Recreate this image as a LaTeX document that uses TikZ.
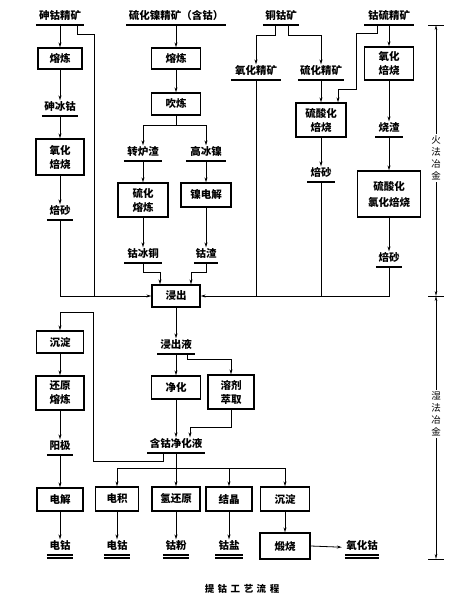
\documentclass[tikz,border=0pt]{standalone}
\usepackage{fontspec}
\setmainfont{Noto Sans CJK SC}
\usetikzlibrary{arrows.meta}

\begin{document}
\begin{tikzpicture}[x=1pt, y=-1pt,
  every node/.style={font=\fontsize{10.5}{14}\selectfont\bfseries},
  box/.style={draw, line width=1.3pt, minimum width=48pt, minimum height=22pt, inner sep=1pt, align=center},
  prod/.style={anchor=south, inner xsep=0pt, inner ysep=0.6pt, text height=9pt, text depth=5pt,
    append after command={(\tikzlastnode.south west) edge[line width=1.1pt] (\tikzlastnode.south east)}},
  final/.style={prod,
    append after command={([yshift=-3pt]\tikzlastnode.south west) edge[line width=1.1pt] ([yshift=-3pt]\tikzlastnode.south east)}},
  side/.style={fill=white, inner xsep=0.5pt, inner ysep=2pt, align=center, font=\fontsize{9.5}{12}\selectfont},
  line/.style={line width=0.8pt},
  flow/.style={line, -{Stealth[length=5pt,width=3pt]}},
  twoway/.style={line, {Stealth[length=5pt,width=2.6pt]}-{Stealth[length=5pt,width=2.6pt]}},
]
  \useasboundingbox (0,0) rectangle (459,607);

  \node[prod, minimum width=48pt] (ore1) at (60,25) {砷钴精矿};
  \node[prod, minimum width=99pt] (ore2) at (176,25) {硫化镍精矿（含钴）};
  \node[prod, minimum width=36pt] (ore3) at (281,25) {铜钴矿};
  \node[prod, minimum width=49pt] (ore4) at (389,25) {钴硫精矿};

  \node[box, minimum width=44pt, minimum height=21pt] (smelt1) at (60,58.5) {熔炼};
  \node[prod, minimum width=36pt] (matte1) at (60,116) {砷冰钴};
  \node[box, minimum height=36pt] (roast1) at (60,157) {氧化\\焙烧};
  \node[prod, minimum width=26pt] (calc1) at (60,220) {焙砂};

  \node[box, minimum width=49pt, minimum height=21pt] (smelt2) at (176,58.5) {熔炼};
  \node[box, minimum width=49pt] (blow) at (176,104) {吹炼};
  \node[prod, minimum width=38pt] (slag) at (143,161) {转炉渣};
  \node[prod, minimum width=40pt] (matte2) at (206,161) {高冰镍};
  \node[box, minimum width=50pt, minimum height=34pt] (smelt3) at (143,200) {硫化\\熔炼};
  \node[box, minimum width=50pt, minimum height=24pt] (elec1) at (206,195) {镍电解};
  \node[prod, minimum width=37pt] (comatte) at (143,263) {钴冰铜};
  \node[prod, minimum width=24pt] (coslag) at (206,263) {钴渣};

  \node[prod, minimum width=49pt] (oxore) at (256,80) {氧化精矿};
  \node[prod, minimum width=46pt] (sulore) at (321,80) {硫化精矿};
  \node[box, minimum width=50pt, minimum height=34pt] (sroast) at (321,120) {硫酸化\\焙烧};
  \node[prod, minimum width=27pt] (calc2) at (321,182) {焙砂};

  \node[box, minimum width=49pt, minimum height=33pt] (roast4) at (389,63.5) {氧化\\焙烧};
  \node[prod, minimum width=27pt] (cinder) at (389,137) {烧渣};
  \node[box, minimum width=63pt, minimum height=46pt] (scroast) at (389,194) {硫酸化\\[2pt]氯化焙烧};
  \node[prod, minimum width=26pt] (calc3) at (389,267) {焙砂};

  \node[box] (leach) at (176,296) {浸出};

  \node[prod, minimum width=37pt] (liquor) at (176,354) {浸出液};
  \node[box, minimum width=49pt, minimum height=23pt] (purify) at (176,387.5) {净化};
  \node[box, minimum width=46pt, minimum height=34pt] (solvex) at (231,392) {溶剂\\萃取};
  \node[prod, minimum width=57pt] (pure) at (176,453) {含钴净化液};

  \node[box, minimum width=47pt] (precip1) at (60,342) {沉淀};
  \node[box, minimum height=34pt] (reduce) at (60,393) {还原\\熔炼};
  \node[prod, minimum width=26pt] (anode) at (60,455) {阳极};
  \node[box, minimum width=46pt, minimum height=23pt] (electro) at (60,499.5) {电解};
  \node[final, minimum width=26pt] (co1) at (60,555) {电钴};

  \node[box, minimum width=43pt, minimum height=24pt] (ewin) at (117,499) {电积};
  \node[box, minimum height=24pt] (hred) at (176,499) {氢还原};
  \node[box, minimum width=46pt, minimum height=24pt] (cryst) at (229,499) {结晶};
  \node[box, minimum width=49pt, minimum height=24pt] (precip2) at (285,499) {沉淀};
  \node[final, minimum width=26pt] (co2) at (117,555) {电钴};
  \node[final, minimum width=26pt] (copow) at (176,555) {钴粉};
  \node[final, minimum width=27pt] (cosalt) at (229,555) {钴盐};
  \node[box, minimum width=50pt, minimum height=26pt] (calcine) at (285,546) {煅烧};
  \node[final, minimum width=34pt] (coox) at (362,555) {氧化钴};

  \coordinate (bypass) at (94,34);
  \coordinate (ret) at (93,312);
  \coordinate (hub) at (176,468);

  \draw[flow] (ore1.south) -- (smelt1.north);
  \draw[line] ([xshift=17pt]ore1.south) |- (bypass) -- (bypass |- leach.west);
  \draw[flow] (smelt1) -- (matte1);
  \draw[flow] (matte1.south) -- (roast1.north);
  \draw[flow] (roast1) -- (calc1);
  \draw[flow] (calc1.south) |- (leach.west);

  \draw[flow] (ore2.south) -- (smelt2.north);
  \draw[flow] (smelt2) -- (blow);
  \draw[flow] (blow.south) -- ++(0,10) -| (slag.north);
  \draw[flow] (blow.south) -- ++(0,10) -| (matte2.north);
  \draw[flow] (slag.south) -- (smelt3.north);
  \draw[flow] (matte2.south) -- (elec1.north);
  \draw[flow] (smelt3) -- (comatte);
  \draw[flow] (elec1) -- (coslag);
  \draw[flow] (comatte.south) -- ++(0,9) -| ([xshift=-16pt]leach.north);
  \draw[flow] (coslag.south) -- ++(0,9) -| ([xshift=15pt]leach.north);

  \draw[flow] ([xshift=-6pt]ore3.south) -- ++(0,10) -| (oxore.north);
  \draw[flow] ([xshift=7pt]ore3.south) -- ++(0,10) -| (sulore.north);
  \draw[flow] (sulore.south) -- (sroast.north);
  \draw[flow] (sroast) -- (calc2);
  \draw[flow] ([xshift=-12pt]ore4.south) -- ++(0,8) -- ++(-21,0) -- ++(0,56) -| ([xshift=17pt]sroast.north);
  \draw[flow] (ore4.south) -- (roast4.north);
  \draw[flow] (roast4) -- (cinder);
  \draw[flow] (cinder.south) -- (scroast.north);
  \draw[flow] (scroast) -- (calc3);
  \draw[flow] (calc3.south) |- (leach.east);
  \draw[line] (oxore.south) -- (oxore.south |- leach.east);
  \draw[line] (calc2.south) -- (calc2.south |- leach.east);

  \draw[flow] (leach) -- (liquor);
  \draw[flow] (liquor.south) -- (purify.north);
  \draw[flow] ([xshift=11pt]liquor.south) -- ++(0,5) -| (solvex.north);
  \draw[flow] (purify) -- (pure);
  \draw[flow] (solvex.south) -- ++(0,18) -| ([xshift=14pt]pure.north);
  \draw[flow] ([xshift=-13pt]pure.south) -- ++(0,8) -| (ret) -| (precip1.north);
  \draw[flow] (precip1) -- (reduce);
  \draw[flow] (reduce) -- (anode);
  \draw[flow] (anode.south) -- (electro.north);
  \draw[flow] (electro) -- (co1);

  \draw[flow] (pure.south) -- (hub) -| (ewin.north);
  \draw[flow] (hub) -- (hred.north);
  \draw[flow] (hub) -| (cryst.north);
  \draw[flow] (hub) -| (precip2.north);
  \draw[flow] (ewin) -- (co2);
  \draw[flow] (hred) -- (copow);
  \draw[flow] (cryst) -- (cosalt);
  \draw[flow] (precip2) -- (calcine);
  \draw[flow] (calcine.east) -- ([xshift=-3pt]coox.west);

  \coordinate (pyTop) at (436,25);
  \coordinate (pyMid) at (436,296);
  \coordinate (pyBot) at (436,559);
  \foreach \p in {pyTop,pyMid,pyBot}
    \draw[line] ([xshift=-8pt]\p) -- ([xshift=8pt]\p);
  \draw[twoway] (pyTop) -- (pyMid);
  \draw[twoway] (pyMid) -- (pyBot);
  \node[side] (pyro) at (436,158) {火\\法\\冶\\金};
  \node[side] (hydro) at (436,414) {湿\\法\\冶\\金};

  \node[font=\fontsize{9.5}{12}\selectfont\bfseries] (caption) at (242,589)
    {提\hspace{3.5pt}钴\hspace{3.5pt}工\hspace{3.5pt}艺\hspace{3.5pt}流\hspace{3.5pt}程};
\end{tikzpicture}
\end{document}
